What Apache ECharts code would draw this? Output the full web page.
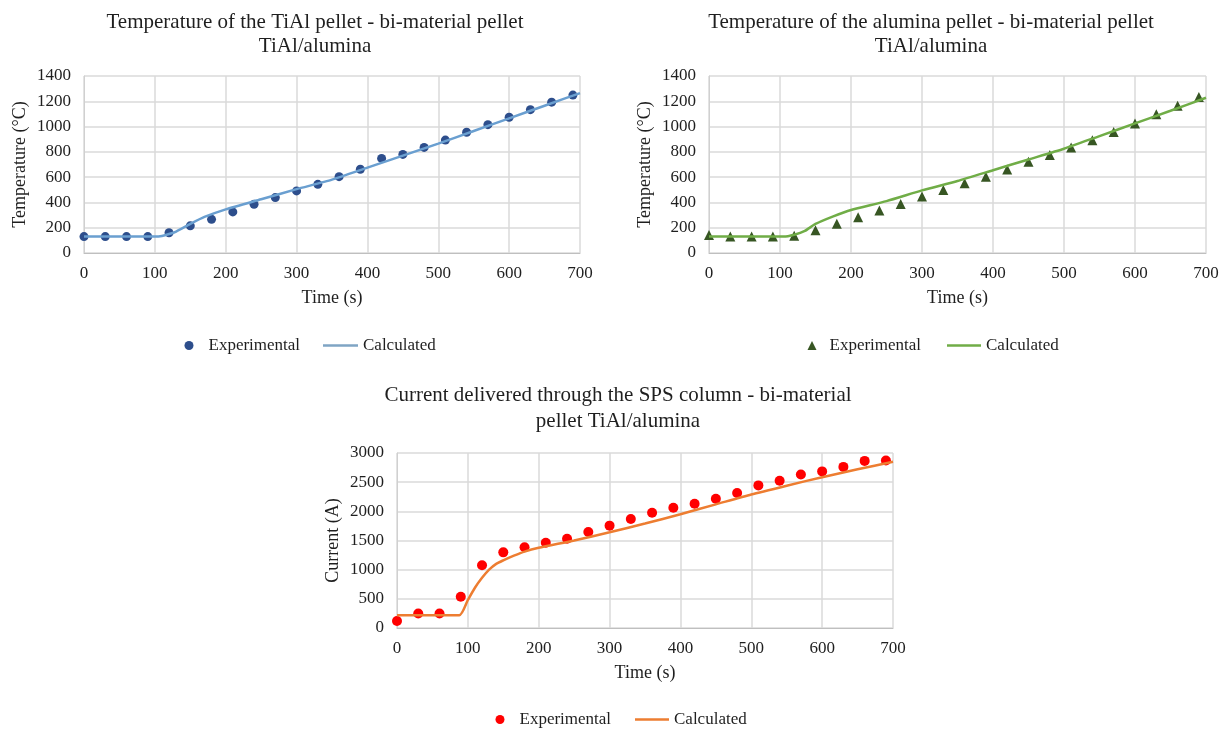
<!DOCTYPE html>
<html>
<head>
<meta charset="utf-8">
<script src="https://cdn.jsdelivr.net/npm/echarts@6/dist/echarts.min.js"></script>
<style>html,body{margin:0;padding:0;background:#fff}#c{width:1227px;height:731px}</style>
</head>
<body>
<div id="c"></div>
<script>
// ---- data ----
const expTime = [0,30,60,90,120,150,180,210,240,270,300,330,360,390,420,450,480,510,540,570,600,630,660,690];
const tialExp = [130,130,130,130,160,215,266,325,386,438,491,543,604,662,748,780,835,893,955,1015,1074,1134,1193,1249];
const tialCalcTime = [0,100,110,120,130,150,170,200,250,300,350,400,450,500,550,600,650,700];
const tialCalc = [130,130,135,150,170,230,285,345,425,505,580,675,770,865,965,1065,1165,1265];
const aluExp = [142,130,130,130,137,180,231,283,336,388,446,499,551,604,661,722,776,835,892,958,1024,1097,1165,1234];
const aluCalcTime = [0,105,120,135,150,175,200,250,300,350,400,450,500,550,600,650,700];
const aluCalc = [130,130,145,175,230,290,340,410,495,570,655,740,825,925,1025,1125,1228];
const curExp = [120,248,248,535,1075,1297,1385,1460,1530,1645,1755,1870,1975,2060,2130,2215,2315,2445,2525,2630,2685,2762,2865,2872];
const curCalcTime = [0,88,100,110,120,130,140,150,165,180,200,250,300,350,400,450,500,550,600,650,700];
const curCalc = [220,220,480,690,860,1000,1100,1160,1240,1310,1375,1500,1640,1790,1950,2120,2290,2440,2585,2720,2850];
const xTicks = {min:0, max:700, interval:100};
const titles = [
  'Temperature of the TiAl pellet - bi-material pellet\nTiAl/alumina',
  'Temperature of the alumina pellet - bi-material pellet\nTiAl/alumina',
  'Current delivered through the SPS column - bi-material\npellet TiAl/alumina'
];

const pair = (xs, ys) => xs.map((x, i) => [x, ys[i]]);
const FONT = 'Liberation Serif';
const TXT = '#1f1f1f';
const GRID = '#dadada';

function xAxis(gi){
  return {type:'value', gridIndex:gi, min:xTicks.min, max:xTicks.max, interval:xTicks.interval,
    name:'Time (s)', nameLocation:'middle', nameGap:36,
    nameTextStyle:{fontFamily:FONT, fontSize:18, color:TXT},
    axisLine:{show:true, lineStyle:{color:'#bfbfbf', width:1}}, axisTick:{show:false},
    axisLabel:{fontFamily:FONT, fontSize:17, color:TXT, margin:12, formatter:v=>String(v)},
    splitLine:{show:true, lineStyle:{color:GRID, width:1.5}}};
}
function yAxis(gi, max, interval, name){
  return {type:'value', gridIndex:gi, min:0, max:max, interval:interval,
    name:name, nameLocation:'middle', nameGap:55, nameRotate:90,
    nameTextStyle:{fontFamily:FONT, fontSize:18, color:TXT},
    axisLine:{show:true, lineStyle:{color:'#d0d0d0', width:1}}, axisTick:{show:false},
    axisLabel:{fontFamily:FONT, fontSize:17, color:TXT, margin:13, formatter:v=>String(v)},
    splitLine:{show:true, lineStyle:{color:GRID, width:1.5}}};
}
function legendPair(leftExp, leftCalc, top, expName, calcName, icon, pad, calcW){
  return [
    {left:leftExp, top:top, data:[{name:expName, icon:icon}], itemWidth:9, itemHeight:9,
      selectedMode:false, formatter:()=> 'Experimental',
      textStyle:{fontFamily:FONT, fontSize:17, color:TXT, padding:[0,0,0,pad]}},
    {left:leftCalc, top:top, data:[{name:calcName, icon:'rect'}], itemWidth:calcW, itemHeight:2.5,
      selectedMode:false, formatter:()=> 'Calculated',
      textStyle:{fontFamily:FONT, fontSize:17, color:TXT, padding:[0,0,0,0]}}
  ];
}
const titleStyle = {fontFamily:FONT, fontSize:21, fontWeight:'normal', color:TXT, lineHeight:24};

const chart = echarts.init(document.getElementById('c'), null, {renderer:'canvas'});
chart.setOption({
  animation:false,
  backgroundColor:'#fff',
  title:[
    {text:titles[0], left:310, top:5, textAlign:'center', textStyle:titleStyle},
    {text:titles[1], left:926, top:5, textAlign:'center', textStyle:titleStyle},
    {text:titles[2], left:613, top:377, textAlign:'center', textStyle:Object.assign({}, titleStyle, {lineHeight:26})}
  ],
  legend:[].concat(
    legendPair(179.5, 318, 332, 'exp1', 'calc1', 'circle', 10, 35),
    legendPair(802.5, 942, 332, 'exp2', 'calc2', 'triangle', 8, 34),
    legendPair(490.5, 630, 706, 'exp3', 'calc3', 'circle', 10, 34)
  ),
  grid:[
    {left:84, right:647, top:76, bottom:478},
    {left:709, right:21, top:76, bottom:478},
    {left:397, right:334, top:453, bottom:103}
  ],
  xAxis:[xAxis(0), xAxis(1), xAxis(2)],
  yAxis:[yAxis(0,1400,200,'Temperature (°C)'), yAxis(1,1400,200,'Temperature (°C)'), yAxis(2,3000,500,'Current (A)')],
  series:[
    {name:'calc1', type:'line', xAxisIndex:0, yAxisIndex:0, data:pair(tialCalcTime, tialCalc), showSymbol:false, symbol:'none', smooth:0.2,
      lineStyle:{color:'#6a9fd0', width:2.5}, itemStyle:{color:'#7fa5c4'}},
    {name:'exp1', type:'scatter', xAxisIndex:0, yAxisIndex:0, data:pair(expTime, tialExp), symbol:'circle', symbolSize:9,
      itemStyle:{color:'#2d4e8c', opacity:1}},
    {name:'calc2', type:'line', xAxisIndex:1, yAxisIndex:1, data:pair(aluCalcTime, aluCalc), showSymbol:false, symbol:'none', smooth:0.2,
      lineStyle:{color:'#70ad47', width:2.5}, itemStyle:{color:'#70ad47'}},
    {name:'exp2', type:'scatter', xAxisIndex:1, yAxisIndex:1, data:pair(expTime, aluExp), symbol:'triangle', symbolSize:10,
      itemStyle:{color:'#375623', opacity:1}},
    {name:'calc3', type:'line', xAxisIndex:2, yAxisIndex:2, data:pair(curCalcTime, curCalc), showSymbol:false, symbol:'none', smooth:0.2,
      lineStyle:{color:'#ed7d31', width:2.5}, itemStyle:{color:'#ed7d31'}},
    {name:'exp3', type:'scatter', xAxisIndex:2, yAxisIndex:2, data:pair(expTime, curExp), symbol:'circle', symbolSize:10,
      itemStyle:{color:'#ff0000', opacity:1}}
  ]
});
</script>
</body>
</html>
